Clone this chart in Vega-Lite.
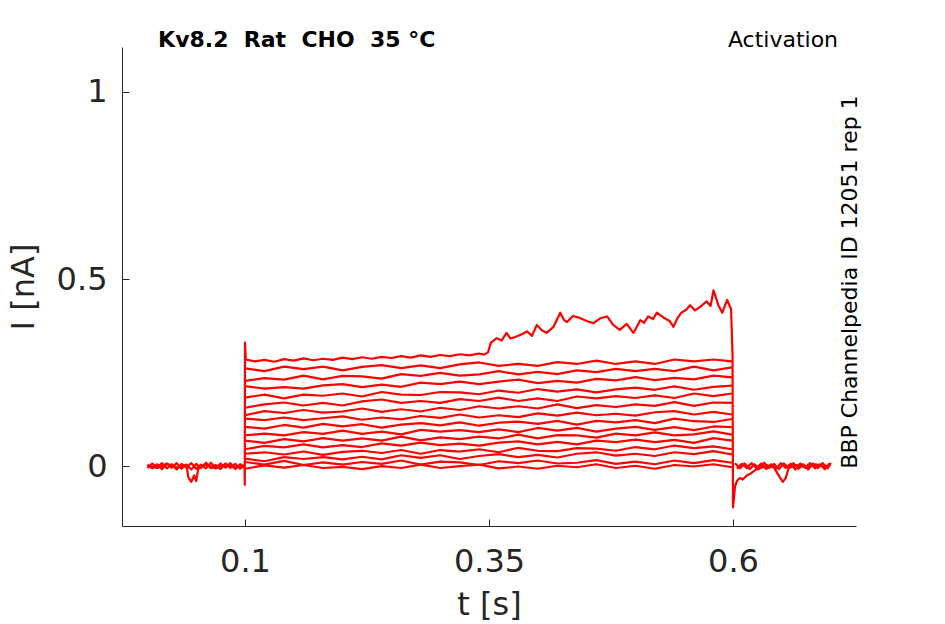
{
  "$schema": "https://vega.github.io/schema/vega-lite/v6.json",
  "description": "Kv8.2 activation current traces",
  "autosize": "none",
  "width": 734,
  "height": 479,
  "padding": {"left": 122, "top": 47, "right": 89, "bottom": 98},
  "background": "white",
  "config": {
    "view": {"stroke": null},
    "font": "DejaVu Sans",
    "axis": {
      "domainColor": "#262626",
      "tickColor": "#262626",
      "labelColor": "#262626",
      "titleColor": "#262626",
      "labelFont": "DejaVu Sans",
      "titleFont": "DejaVu Sans",
      "titleFontWeight": "normal",
      "grid": false,
      "domainWidth": 1,
      "tickWidth": 1
    }
  },
  "layer": [
    {
      "data": {
        "values": [
          {"k": "top", "t": 0.0, "i": 0.002},
          {"k": "top", "t": 0.01, "i": -0.005},
          {"k": "top", "t": 0.02, "i": 0.006},
          {"k": "top", "t": 0.03, "i": -0.004},
          {"k": "top", "t": 0.04, "i": 0.003},
          {"k": "top", "t": 0.042, "i": -0.03},
          {"k": "top", "t": 0.045, "i": -0.042},
          {"k": "top", "t": 0.048, "i": -0.025},
          {"k": "top", "t": 0.05, "i": -0.04},
          {"k": "top", "t": 0.052, "i": -0.008},
          {"k": "top", "t": 0.06, "i": 0.004},
          {"k": "top", "t": 0.07, "i": -0.006},
          {"k": "top", "t": 0.08, "i": 0.005},
          {"k": "top", "t": 0.09, "i": -0.004},
          {"k": "top", "t": 0.0995, "i": 0.002},
          {"k": "top", "t": 0.0998, "i": -0.05},
          {"k": "top", "t": 0.1, "i": 0.33},
          {"k": "top", "t": 0.1008, "i": 0.285},
          {"k": "top", "t": 0.11, "i": 0.28},
          {"k": "top", "t": 0.12, "i": 0.284},
          {"k": "top", "t": 0.13, "i": 0.279},
          {"k": "top", "t": 0.14, "i": 0.286},
          {"k": "top", "t": 0.15, "i": 0.282},
          {"k": "top", "t": 0.16, "i": 0.288},
          {"k": "top", "t": 0.17, "i": 0.283},
          {"k": "top", "t": 0.18, "i": 0.287},
          {"k": "top", "t": 0.19, "i": 0.284},
          {"k": "top", "t": 0.2, "i": 0.29},
          {"k": "top", "t": 0.21, "i": 0.286},
          {"k": "top", "t": 0.22, "i": 0.291},
          {"k": "top", "t": 0.23, "i": 0.287},
          {"k": "top", "t": 0.24, "i": 0.292},
          {"k": "top", "t": 0.25, "i": 0.289},
          {"k": "top", "t": 0.26, "i": 0.294},
          {"k": "top", "t": 0.27, "i": 0.29},
          {"k": "top", "t": 0.28, "i": 0.296},
          {"k": "top", "t": 0.29, "i": 0.292},
          {"k": "top", "t": 0.3, "i": 0.297},
          {"k": "top", "t": 0.31, "i": 0.294},
          {"k": "top", "t": 0.32, "i": 0.299},
          {"k": "top", "t": 0.33, "i": 0.296},
          {"k": "top", "t": 0.34, "i": 0.301},
          {"k": "top", "t": 0.345, "i": 0.298},
          {"k": "top", "t": 0.349, "i": 0.304},
          {"k": "top", "t": 0.352, "i": 0.33},
          {"k": "top", "t": 0.358, "i": 0.342},
          {"k": "top", "t": 0.363, "i": 0.336},
          {"k": "top", "t": 0.368, "i": 0.356},
          {"k": "top", "t": 0.372, "i": 0.341},
          {"k": "top", "t": 0.377, "i": 0.345},
          {"k": "top", "t": 0.383, "i": 0.352},
          {"k": "top", "t": 0.389, "i": 0.36},
          {"k": "top", "t": 0.394, "i": 0.348},
          {"k": "top", "t": 0.399, "i": 0.377},
          {"k": "top", "t": 0.404, "i": 0.363},
          {"k": "top", "t": 0.409, "i": 0.356},
          {"k": "top", "t": 0.416, "i": 0.372},
          {"k": "top", "t": 0.423, "i": 0.41},
          {"k": "top", "t": 0.427, "i": 0.39},
          {"k": "top", "t": 0.43, "i": 0.385},
          {"k": "top", "t": 0.436, "i": 0.401},
          {"k": "top", "t": 0.443, "i": 0.396},
          {"k": "top", "t": 0.45, "i": 0.388},
          {"k": "top", "t": 0.457, "i": 0.382},
          {"k": "top", "t": 0.464, "i": 0.395},
          {"k": "top", "t": 0.471, "i": 0.4},
          {"k": "top", "t": 0.477, "i": 0.378},
          {"k": "top", "t": 0.484, "i": 0.364},
          {"k": "top", "t": 0.491, "i": 0.38},
          {"k": "top", "t": 0.498, "i": 0.356},
          {"k": "top", "t": 0.505, "i": 0.39},
          {"k": "top", "t": 0.509, "i": 0.383},
          {"k": "top", "t": 0.513, "i": 0.4},
          {"k": "top", "t": 0.518, "i": 0.393},
          {"k": "top", "t": 0.522, "i": 0.41},
          {"k": "top", "t": 0.53, "i": 0.395},
          {"k": "top", "t": 0.535, "i": 0.388},
          {"k": "top", "t": 0.539, "i": 0.372},
          {"k": "top", "t": 0.543, "i": 0.395},
          {"k": "top", "t": 0.547, "i": 0.41},
          {"k": "top", "t": 0.552, "i": 0.418},
          {"k": "top", "t": 0.556, "i": 0.43},
          {"k": "top", "t": 0.561, "i": 0.416},
          {"k": "top", "t": 0.566, "i": 0.425},
          {"k": "top", "t": 0.573, "i": 0.44},
          {"k": "top", "t": 0.577, "i": 0.428},
          {"k": "top", "t": 0.58, "i": 0.47},
          {"k": "top", "t": 0.585, "i": 0.43},
          {"k": "top", "t": 0.589, "i": 0.41},
          {"k": "top", "t": 0.594, "i": 0.444},
          {"k": "top", "t": 0.598, "i": 0.42},
          {"k": "top", "t": 0.5995, "i": 0.3},
          {"k": "top", "t": 0.6, "i": -0.11},
          {"k": "top", "t": 0.6008, "i": -0.09},
          {"k": "top", "t": 0.602, "i": -0.055},
          {"k": "top", "t": 0.604, "i": -0.04},
          {"k": "top", "t": 0.607, "i": -0.032},
          {"k": "top", "t": 0.61, "i": -0.036},
          {"k": "top", "t": 0.614, "i": -0.025},
          {"k": "top", "t": 0.618, "i": -0.02},
          {"k": "top", "t": 0.622, "i": -0.012},
          {"k": "top", "t": 0.628, "i": -0.005},
          {"k": "top", "t": 0.635, "i": 0.002},
          {"k": "top", "t": 0.642, "i": -0.004},
          {"k": "top", "t": 0.648, "i": -0.03},
          {"k": "top", "t": 0.651, "i": -0.042},
          {"k": "top", "t": 0.654, "i": -0.032},
          {"k": "top", "t": 0.657, "i": -0.005},
          {"k": "top", "t": 0.665, "i": 0.003},
          {"k": "top", "t": 0.675, "i": -0.004},
          {"k": "top", "t": 0.685, "i": 0.005},
          {"k": "top", "t": 0.695, "i": -0.003},
          {"k": "top", "t": 0.7, "i": 0.004},

          {"k": "b1", "t": 0.0, "i": 0.003},
          {"k": "b1", "t": 0.005, "i": -0.006},
          {"k": "b1", "t": 0.01, "i": 0.005},
          {"k": "b1", "t": 0.015, "i": -0.008},
          {"k": "b1", "t": 0.02, "i": 0.007},
          {"k": "b1", "t": 0.025, "i": -0.004},
          {"k": "b1", "t": 0.03, "i": 0.008},
          {"k": "b1", "t": 0.035, "i": -0.007},
          {"k": "b1", "t": 0.04, "i": 0.004},
          {"k": "b1", "t": 0.045, "i": -0.009},
          {"k": "b1", "t": 0.05, "i": 0.006},
          {"k": "b1", "t": 0.055, "i": -0.005},
          {"k": "b1", "t": 0.06, "i": 0.009},
          {"k": "b1", "t": 0.065, "i": -0.006},
          {"k": "b1", "t": 0.07, "i": 0.003},
          {"k": "b1", "t": 0.075, "i": -0.008},
          {"k": "b1", "t": 0.08, "i": 0.007},
          {"k": "b1", "t": 0.085, "i": -0.005},
          {"k": "b1", "t": 0.09, "i": 0.006},
          {"k": "b1", "t": 0.095, "i": -0.007},
          {"k": "b1", "t": 0.0995, "i": 0.002},

          {"k": "b2", "t": 0.0, "i": -0.005},
          {"k": "b2", "t": 0.005, "i": 0.007},
          {"k": "b2", "t": 0.01, "i": -0.004},
          {"k": "b2", "t": 0.015, "i": 0.008},
          {"k": "b2", "t": 0.02, "i": -0.006},
          {"k": "b2", "t": 0.025, "i": 0.005},
          {"k": "b2", "t": 0.03, "i": -0.009},
          {"k": "b2", "t": 0.035, "i": 0.006},
          {"k": "b2", "t": 0.04, "i": -0.003},
          {"k": "b2", "t": 0.045, "i": 0.008},
          {"k": "b2", "t": 0.05, "i": -0.007},
          {"k": "b2", "t": 0.055, "i": 0.004},
          {"k": "b2", "t": 0.06, "i": -0.006},
          {"k": "b2", "t": 0.065, "i": 0.009},
          {"k": "b2", "t": 0.07, "i": -0.005},
          {"k": "b2", "t": 0.075, "i": 0.007},
          {"k": "b2", "t": 0.08, "i": -0.004},
          {"k": "b2", "t": 0.085, "i": 0.008},
          {"k": "b2", "t": 0.09, "i": -0.008},
          {"k": "b2", "t": 0.095, "i": 0.005},
          {"k": "b2", "t": 0.0995, "i": -0.003},

          {"k": "a1", "t": 0.602, "i": 0.008},
          {"k": "a1", "t": 0.607, "i": -0.006},
          {"k": "a1", "t": 0.612, "i": 0.007},
          {"k": "a1", "t": 0.617, "i": -0.008},
          {"k": "a1", "t": 0.622, "i": 0.005},
          {"k": "a1", "t": 0.627, "i": -0.007},
          {"k": "a1", "t": 0.632, "i": 0.009},
          {"k": "a1", "t": 0.637, "i": -0.005},
          {"k": "a1", "t": 0.642, "i": 0.006},
          {"k": "a1", "t": 0.647, "i": -0.008},
          {"k": "a1", "t": 0.652, "i": 0.007},
          {"k": "a1", "t": 0.657, "i": -0.004},
          {"k": "a1", "t": 0.662, "i": 0.008},
          {"k": "a1", "t": 0.667, "i": -0.007},
          {"k": "a1", "t": 0.672, "i": 0.005},
          {"k": "a1", "t": 0.677, "i": -0.009},
          {"k": "a1", "t": 0.682, "i": 0.007},
          {"k": "a1", "t": 0.687, "i": -0.005},
          {"k": "a1", "t": 0.692, "i": 0.008},
          {"k": "a1", "t": 0.697, "i": -0.006},
          {"k": "a1", "t": 0.7, "i": 0.009},

          {"k": "a2", "t": 0.604, "i": -0.007},
          {"k": "a2", "t": 0.609, "i": 0.006},
          {"k": "a2", "t": 0.614, "i": -0.005},
          {"k": "a2", "t": 0.619, "i": 0.008},
          {"k": "a2", "t": 0.624, "i": -0.006},
          {"k": "a2", "t": 0.629, "i": 0.007},
          {"k": "a2", "t": 0.634, "i": -0.008},
          {"k": "a2", "t": 0.639, "i": 0.005},
          {"k": "a2", "t": 0.644, "i": -0.007},
          {"k": "a2", "t": 0.649, "i": 0.008},
          {"k": "a2", "t": 0.654, "i": -0.005},
          {"k": "a2", "t": 0.659, "i": 0.006},
          {"k": "a2", "t": 0.664, "i": -0.009},
          {"k": "a2", "t": 0.669, "i": 0.007},
          {"k": "a2", "t": 0.674, "i": -0.004},
          {"k": "a2", "t": 0.679, "i": 0.008},
          {"k": "a2", "t": 0.684, "i": -0.006},
          {"k": "a2", "t": 0.689, "i": 0.005},
          {"k": "a2", "t": 0.694, "i": -0.008},
          {"k": "a2", "t": 0.699, "i": 0.007},

          {"k": "s1", "t": 0.1, "i": 0.261},
          {"k": "s1", "t": 0.12, "i": 0.254},
          {"k": "s1", "t": 0.14, "i": 0.266},
          {"k": "s1", "t": 0.16, "i": 0.259},
          {"k": "s1", "t": 0.18, "i": 0.266},
          {"k": "s1", "t": 0.2, "i": 0.256},
          {"k": "s1", "t": 0.22, "i": 0.265},
          {"k": "s1", "t": 0.24, "i": 0.27},
          {"k": "s1", "t": 0.26, "i": 0.262},
          {"k": "s1", "t": 0.28, "i": 0.269},
          {"k": "s1", "t": 0.3, "i": 0.262},
          {"k": "s1", "t": 0.32, "i": 0.272},
          {"k": "s1", "t": 0.34, "i": 0.277},
          {"k": "s1", "t": 0.36, "i": 0.268},
          {"k": "s1", "t": 0.38, "i": 0.273},
          {"k": "s1", "t": 0.4, "i": 0.268},
          {"k": "s1", "t": 0.42, "i": 0.278},
          {"k": "s1", "t": 0.44, "i": 0.273},
          {"k": "s1", "t": 0.46, "i": 0.282},
          {"k": "s1", "t": 0.48, "i": 0.273},
          {"k": "s1", "t": 0.5, "i": 0.28},
          {"k": "s1", "t": 0.52, "i": 0.273},
          {"k": "s1", "t": 0.54, "i": 0.285},
          {"k": "s1", "t": 0.56, "i": 0.28},
          {"k": "s1", "t": 0.58, "i": 0.285},
          {"k": "s1", "t": 0.599, "i": 0.28},

          {"k": "s2", "t": 0.1, "i": 0.228},
          {"k": "s2", "t": 0.12, "i": 0.235},
          {"k": "s2", "t": 0.14, "i": 0.231},
          {"k": "s2", "t": 0.16, "i": 0.242},
          {"k": "s2", "t": 0.18, "i": 0.232},
          {"k": "s2", "t": 0.2, "i": 0.241},
          {"k": "s2", "t": 0.22, "i": 0.24},
          {"k": "s2", "t": 0.24, "i": 0.234},
          {"k": "s2", "t": 0.26, "i": 0.246},
          {"k": "s2", "t": 0.28, "i": 0.241},
          {"k": "s2", "t": 0.3, "i": 0.249},
          {"k": "s2", "t": 0.32, "i": 0.242},
          {"k": "s2", "t": 0.34, "i": 0.245},
          {"k": "s2", "t": 0.36, "i": 0.254},
          {"k": "s2", "t": 0.38, "i": 0.245},
          {"k": "s2", "t": 0.4, "i": 0.252},
          {"k": "s2", "t": 0.42, "i": 0.246},
          {"k": "s2", "t": 0.44, "i": 0.256},
          {"k": "s2", "t": 0.46, "i": 0.251},
          {"k": "s2", "t": 0.48, "i": 0.26},
          {"k": "s2", "t": 0.5, "i": 0.254},
          {"k": "s2", "t": 0.52, "i": 0.26},
          {"k": "s2", "t": 0.54, "i": 0.254},
          {"k": "s2", "t": 0.56, "i": 0.266},
          {"k": "s2", "t": 0.58, "i": 0.256},
          {"k": "s2", "t": 0.599, "i": 0.264},

          {"k": "s3", "t": 0.1, "i": 0.214},
          {"k": "s3", "t": 0.12, "i": 0.207},
          {"k": "s3", "t": 0.14, "i": 0.211},
          {"k": "s3", "t": 0.16, "i": 0.207},
          {"k": "s3", "t": 0.18, "i": 0.216},
          {"k": "s3", "t": 0.2, "i": 0.219},
          {"k": "s3", "t": 0.22, "i": 0.211},
          {"k": "s3", "t": 0.24, "i": 0.218},
          {"k": "s3", "t": 0.26, "i": 0.212},
          {"k": "s3", "t": 0.28, "i": 0.223},
          {"k": "s3", "t": 0.3, "i": 0.219},
          {"k": "s3", "t": 0.32, "i": 0.226},
          {"k": "s3", "t": 0.34, "i": 0.219},
          {"k": "s3", "t": 0.36, "i": 0.226},
          {"k": "s3", "t": 0.38, "i": 0.231},
          {"k": "s3", "t": 0.4, "i": 0.222},
          {"k": "s3", "t": 0.42, "i": 0.228},
          {"k": "s3", "t": 0.44, "i": 0.223},
          {"k": "s3", "t": 0.46, "i": 0.233},
          {"k": "s3", "t": 0.48, "i": 0.229},
          {"k": "s3", "t": 0.5, "i": 0.238},
          {"k": "s3", "t": 0.52, "i": 0.23},
          {"k": "s3", "t": 0.54, "i": 0.236},
          {"k": "s3", "t": 0.56, "i": 0.232},
          {"k": "s3", "t": 0.58, "i": 0.242},
          {"k": "s3", "t": 0.599, "i": 0.237},

          {"k": "s4", "t": 0.1, "i": 0.183},
          {"k": "s4", "t": 0.12, "i": 0.191},
          {"k": "s4", "t": 0.14, "i": 0.181},
          {"k": "s4", "t": 0.16, "i": 0.191},
          {"k": "s4", "t": 0.18, "i": 0.188},
          {"k": "s4", "t": 0.2, "i": 0.194},
          {"k": "s4", "t": 0.22, "i": 0.186},
          {"k": "s4", "t": 0.24, "i": 0.198},
          {"k": "s4", "t": 0.26, "i": 0.191},
          {"k": "s4", "t": 0.28, "i": 0.19},
          {"k": "s4", "t": 0.3, "i": 0.198},
          {"k": "s4", "t": 0.32, "i": 0.197},
          {"k": "s4", "t": 0.34, "i": 0.192},
          {"k": "s4", "t": 0.36, "i": 0.202},
          {"k": "s4", "t": 0.38, "i": 0.196},
          {"k": "s4", "t": 0.4, "i": 0.206},
          {"k": "s4", "t": 0.42, "i": 0.199},
          {"k": "s4", "t": 0.44, "i": 0.205},
          {"k": "s4", "t": 0.46, "i": 0.197},
          {"k": "s4", "t": 0.48, "i": 0.205},
          {"k": "s4", "t": 0.5, "i": 0.21},
          {"k": "s4", "t": 0.52, "i": 0.204},
          {"k": "s4", "t": 0.54, "i": 0.213},
          {"k": "s4", "t": 0.56, "i": 0.204},
          {"k": "s4", "t": 0.58, "i": 0.212},
          {"k": "s4", "t": 0.599, "i": 0.215},

          {"k": "s5", "t": 0.1, "i": 0.156},
          {"k": "s5", "t": 0.12, "i": 0.165},
          {"k": "s5", "t": 0.14, "i": 0.17},
          {"k": "s5", "t": 0.16, "i": 0.162},
          {"k": "s5", "t": 0.18, "i": 0.169},
          {"k": "s5", "t": 0.2, "i": 0.162},
          {"k": "s5", "t": 0.22, "i": 0.173},
          {"k": "s5", "t": 0.24, "i": 0.178},
          {"k": "s5", "t": 0.26, "i": 0.169},
          {"k": "s5", "t": 0.28, "i": 0.174},
          {"k": "s5", "t": 0.3, "i": 0.169},
          {"k": "s5", "t": 0.32, "i": 0.179},
          {"k": "s5", "t": 0.34, "i": 0.174},
          {"k": "s5", "t": 0.36, "i": 0.183},
          {"k": "s5", "t": 0.38, "i": 0.174},
          {"k": "s5", "t": 0.4, "i": 0.181},
          {"k": "s5", "t": 0.42, "i": 0.174},
          {"k": "s5", "t": 0.44, "i": 0.186},
          {"k": "s5", "t": 0.46, "i": 0.181},
          {"k": "s5", "t": 0.48, "i": 0.187},
          {"k": "s5", "t": 0.5, "i": 0.182},
          {"k": "s5", "t": 0.52, "i": 0.189},
          {"k": "s5", "t": 0.54, "i": 0.182},
          {"k": "s5", "t": 0.56, "i": 0.194},
          {"k": "s5", "t": 0.58, "i": 0.187},
          {"k": "s5", "t": 0.599, "i": 0.194},

          {"k": "s6", "t": 0.1, "i": 0.136},
          {"k": "s6", "t": 0.12, "i": 0.147},
          {"k": "s6", "t": 0.14, "i": 0.142},
          {"k": "s6", "t": 0.16, "i": 0.15},
          {"k": "s6", "t": 0.18, "i": 0.143},
          {"k": "s6", "t": 0.2, "i": 0.146},
          {"k": "s6", "t": 0.22, "i": 0.154},
          {"k": "s6", "t": 0.24, "i": 0.145},
          {"k": "s6", "t": 0.26, "i": 0.152},
          {"k": "s6", "t": 0.28, "i": 0.146},
          {"k": "s6", "t": 0.3, "i": 0.156},
          {"k": "s6", "t": 0.32, "i": 0.15},
          {"k": "s6", "t": 0.34, "i": 0.16},
          {"k": "s6", "t": 0.36, "i": 0.154},
          {"k": "s6", "t": 0.38, "i": 0.16},
          {"k": "s6", "t": 0.4, "i": 0.154},
          {"k": "s6", "t": 0.42, "i": 0.165},
          {"k": "s6", "t": 0.44, "i": 0.155},
          {"k": "s6", "t": 0.46, "i": 0.163},
          {"k": "s6", "t": 0.48, "i": 0.158},
          {"k": "s6", "t": 0.5, "i": 0.165},
          {"k": "s6", "t": 0.52, "i": 0.161},
          {"k": "s6", "t": 0.54, "i": 0.171},
          {"k": "s6", "t": 0.56, "i": 0.161},
          {"k": "s6", "t": 0.58, "i": 0.17},
          {"k": "s6", "t": 0.599, "i": 0.169},

          {"k": "s7", "t": 0.1, "i": 0.127},
          {"k": "s7", "t": 0.12, "i": 0.123},
          {"k": "s7", "t": 0.14, "i": 0.13},
          {"k": "s7", "t": 0.16, "i": 0.123},
          {"k": "s7", "t": 0.18, "i": 0.128},
          {"k": "s7", "t": 0.2, "i": 0.133},
          {"k": "s7", "t": 0.22, "i": 0.124},
          {"k": "s7", "t": 0.24, "i": 0.13},
          {"k": "s7", "t": 0.26, "i": 0.125},
          {"k": "s7", "t": 0.28, "i": 0.134},
          {"k": "s7", "t": 0.3, "i": 0.129},
          {"k": "s7", "t": 0.32, "i": 0.138},
          {"k": "s7", "t": 0.34, "i": 0.13},
          {"k": "s7", "t": 0.36, "i": 0.136},
          {"k": "s7", "t": 0.38, "i": 0.131},
          {"k": "s7", "t": 0.4, "i": 0.141},
          {"k": "s7", "t": 0.42, "i": 0.135},
          {"k": "s7", "t": 0.44, "i": 0.143},
          {"k": "s7", "t": 0.46, "i": 0.136},
          {"k": "s7", "t": 0.48, "i": 0.14},
          {"k": "s7", "t": 0.5, "i": 0.135},
          {"k": "s7", "t": 0.52, "i": 0.144},
          {"k": "s7", "t": 0.54, "i": 0.147},
          {"k": "s7", "t": 0.56, "i": 0.138},
          {"k": "s7", "t": 0.58, "i": 0.145},
          {"k": "s7", "t": 0.599, "i": 0.138},

          {"k": "s8", "t": 0.1, "i": 0.105},
          {"k": "s8", "t": 0.12, "i": 0.1},
          {"k": "s8", "t": 0.14, "i": 0.11},
          {"k": "s8", "t": 0.16, "i": 0.103},
          {"k": "s8", "t": 0.18, "i": 0.113},
          {"k": "s8", "t": 0.2, "i": 0.106},
          {"k": "s8", "t": 0.22, "i": 0.112},
          {"k": "s8", "t": 0.24, "i": 0.103},
          {"k": "s8", "t": 0.26, "i": 0.111},
          {"k": "s8", "t": 0.28, "i": 0.115},
          {"k": "s8", "t": 0.3, "i": 0.109},
          {"k": "s8", "t": 0.32, "i": 0.117},
          {"k": "s8", "t": 0.34, "i": 0.108},
          {"k": "s8", "t": 0.36, "i": 0.116},
          {"k": "s8", "t": 0.38, "i": 0.119},
          {"k": "s8", "t": 0.4, "i": 0.113},
          {"k": "s8", "t": 0.42, "i": 0.121},
          {"k": "s8", "t": 0.44, "i": 0.111},
          {"k": "s8", "t": 0.46, "i": 0.121},
          {"k": "s8", "t": 0.48, "i": 0.117},
          {"k": "s8", "t": 0.5, "i": 0.123},
          {"k": "s8", "t": 0.52, "i": 0.115},
          {"k": "s8", "t": 0.54, "i": 0.127},
          {"k": "s8", "t": 0.56, "i": 0.12},
          {"k": "s8", "t": 0.58, "i": 0.118},
          {"k": "s8", "t": 0.599, "i": 0.126},

          {"k": "s9", "t": 0.1, "i": 0.082},
          {"k": "s9", "t": 0.12, "i": 0.087},
          {"k": "s9", "t": 0.14, "i": 0.082},
          {"k": "s9", "t": 0.16, "i": 0.091},
          {"k": "s9", "t": 0.18, "i": 0.086},
          {"k": "s9", "t": 0.2, "i": 0.095},
          {"k": "s9", "t": 0.22, "i": 0.086},
          {"k": "s9", "t": 0.24, "i": 0.092},
          {"k": "s9", "t": 0.26, "i": 0.085},
          {"k": "s9", "t": 0.28, "i": 0.097},
          {"k": "s9", "t": 0.3, "i": 0.092},
          {"k": "s9", "t": 0.32, "i": 0.096},
          {"k": "s9", "t": 0.34, "i": 0.091},
          {"k": "s9", "t": 0.36, "i": 0.098},
          {"k": "s9", "t": 0.38, "i": 0.091},
          {"k": "s9", "t": 0.4, "i": 0.102},
          {"k": "s9", "t": 0.42, "i": 0.095},
          {"k": "s9", "t": 0.44, "i": 0.102},
          {"k": "s9", "t": 0.46, "i": 0.092},
          {"k": "s9", "t": 0.48, "i": 0.1},
          {"k": "s9", "t": 0.5, "i": 0.105},
          {"k": "s9", "t": 0.52, "i": 0.097},
          {"k": "s9", "t": 0.54, "i": 0.104},
          {"k": "s9", "t": 0.56, "i": 0.096},
          {"k": "s9", "t": 0.58, "i": 0.106},
          {"k": "s9", "t": 0.599, "i": 0.104},

          {"k": "s10", "t": 0.1, "i": 0.068},
          {"k": "s10", "t": 0.12, "i": 0.062},
          {"k": "s10", "t": 0.14, "i": 0.072},
          {"k": "s10", "t": 0.16, "i": 0.066},
          {"k": "s10", "t": 0.18, "i": 0.075},
          {"k": "s10", "t": 0.2, "i": 0.068},
          {"k": "s10", "t": 0.22, "i": 0.074},
          {"k": "s10", "t": 0.24, "i": 0.068},
          {"k": "s10", "t": 0.26, "i": 0.079},
          {"k": "s10", "t": 0.28, "i": 0.069},
          {"k": "s10", "t": 0.3, "i": 0.077},
          {"k": "s10", "t": 0.32, "i": 0.072},
          {"k": "s10", "t": 0.34, "i": 0.079},
          {"k": "s10", "t": 0.36, "i": 0.074},
          {"k": "s10", "t": 0.38, "i": 0.084},
          {"k": "s10", "t": 0.4, "i": 0.074},
          {"k": "s10", "t": 0.42, "i": 0.083},
          {"k": "s10", "t": 0.44, "i": 0.082},
          {"k": "s10", "t": 0.46, "i": 0.076},
          {"k": "s10", "t": 0.48, "i": 0.087},
          {"k": "s10", "t": 0.5, "i": 0.082},
          {"k": "s10", "t": 0.52, "i": 0.09},
          {"k": "s10", "t": 0.54, "i": 0.082},
          {"k": "s10", "t": 0.56, "i": 0.085},
          {"k": "s10", "t": 0.58, "i": 0.093},
          {"k": "s10", "t": 0.599, "i": 0.084},

          {"k": "s11", "t": 0.1, "i": 0.045},
          {"k": "s11", "t": 0.12, "i": 0.054},
          {"k": "s11", "t": 0.14, "i": 0.05},
          {"k": "s11", "t": 0.16, "i": 0.058},
          {"k": "s11", "t": 0.18, "i": 0.05},
          {"k": "s11", "t": 0.2, "i": 0.056},
          {"k": "s11", "t": 0.22, "i": 0.051},
          {"k": "s11", "t": 0.24, "i": 0.061},
          {"k": "s11", "t": 0.26, "i": 0.055},
          {"k": "s11", "t": 0.28, "i": 0.063},
          {"k": "s11", "t": 0.3, "i": 0.056},
          {"k": "s11", "t": 0.32, "i": 0.06},
          {"k": "s11", "t": 0.34, "i": 0.055},
          {"k": "s11", "t": 0.36, "i": 0.063},
          {"k": "s11", "t": 0.38, "i": 0.066},
          {"k": "s11", "t": 0.4, "i": 0.058},
          {"k": "s11", "t": 0.42, "i": 0.065},
          {"k": "s11", "t": 0.44, "i": 0.058},
          {"k": "s11", "t": 0.46, "i": 0.068},
          {"k": "s11", "t": 0.48, "i": 0.064},
          {"k": "s11", "t": 0.5, "i": 0.071},
          {"k": "s11", "t": 0.52, "i": 0.064},
          {"k": "s11", "t": 0.54, "i": 0.07},
          {"k": "s11", "t": 0.56, "i": 0.062},
          {"k": "s11", "t": 0.58, "i": 0.075},
          {"k": "s11", "t": 0.599, "i": 0.068},

          {"k": "s12", "t": 0.1, "i": 0.033},
          {"k": "s12", "t": 0.12, "i": 0.037},
          {"k": "s12", "t": 0.14, "i": 0.031},
          {"k": "s12", "t": 0.16, "i": 0.039},
          {"k": "s12", "t": 0.18, "i": 0.03},
          {"k": "s12", "t": 0.2, "i": 0.038},
          {"k": "s12", "t": 0.22, "i": 0.041},
          {"k": "s12", "t": 0.24, "i": 0.035},
          {"k": "s12", "t": 0.26, "i": 0.043},
          {"k": "s12", "t": 0.28, "i": 0.033},
          {"k": "s12", "t": 0.3, "i": 0.043},
          {"k": "s12", "t": 0.32, "i": 0.039},
          {"k": "s12", "t": 0.34, "i": 0.045},
          {"k": "s12", "t": 0.36, "i": 0.037},
          {"k": "s12", "t": 0.38, "i": 0.049},
          {"k": "s12", "t": 0.4, "i": 0.041},
          {"k": "s12", "t": 0.42, "i": 0.04},
          {"k": "s12", "t": 0.44, "i": 0.048},
          {"k": "s12", "t": 0.46, "i": 0.047},
          {"k": "s12", "t": 0.48, "i": 0.041},
          {"k": "s12", "t": 0.5, "i": 0.051},
          {"k": "s12", "t": 0.52, "i": 0.045},
          {"k": "s12", "t": 0.54, "i": 0.055},
          {"k": "s12", "t": 0.56, "i": 0.048},
          {"k": "s12", "t": 0.58, "i": 0.053},
          {"k": "s12", "t": 0.599, "i": 0.045},

          {"k": "s13", "t": 0.1, "i": 0.02},
          {"k": "s13", "t": 0.12, "i": 0.013},
          {"k": "s13", "t": 0.14, "i": 0.024},
          {"k": "s13", "t": 0.16, "i": 0.019},
          {"k": "s13", "t": 0.18, "i": 0.024},
          {"k": "s13", "t": 0.2, "i": 0.018},
          {"k": "s13", "t": 0.22, "i": 0.025},
          {"k": "s13", "t": 0.24, "i": 0.018},
          {"k": "s13", "t": 0.26, "i": 0.029},
          {"k": "s13", "t": 0.28, "i": 0.022},
          {"k": "s13", "t": 0.3, "i": 0.029},
          {"k": "s13", "t": 0.32, "i": 0.019},
          {"k": "s13", "t": 0.34, "i": 0.027},
          {"k": "s13", "t": 0.36, "i": 0.032},
          {"k": "s13", "t": 0.38, "i": 0.024},
          {"k": "s13", "t": 0.4, "i": 0.03},
          {"k": "s13", "t": 0.42, "i": 0.023},
          {"k": "s13", "t": 0.44, "i": 0.033},
          {"k": "s13", "t": 0.46, "i": 0.037},
          {"k": "s13", "t": 0.48, "i": 0.028},
          {"k": "s13", "t": 0.5, "i": 0.033},
          {"k": "s13", "t": 0.52, "i": 0.027},
          {"k": "s13", "t": 0.54, "i": 0.037},
          {"k": "s13", "t": 0.56, "i": 0.032},
          {"k": "s13", "t": 0.58, "i": 0.04},
          {"k": "s13", "t": 0.599, "i": 0.031},

          {"k": "s14", "t": 0.1, "i": 0.011},
          {"k": "s14", "t": 0.12, "i": 0.004},
          {"k": "s14", "t": 0.14, "i": 0.014},
          {"k": "s14", "t": 0.16, "i": 0.003},
          {"k": "s14", "t": 0.18, "i": 0.01},
          {"k": "s14", "t": 0.2, "i": 0.004},
          {"k": "s14", "t": 0.22, "i": 0.011},
          {"k": "s14", "t": 0.24, "i": 0.006},
          {"k": "s14", "t": 0.26, "i": 0.015},
          {"k": "s14", "t": 0.28, "i": 0.004},
          {"k": "s14", "t": 0.3, "i": 0.012},
          {"k": "s14", "t": 0.32, "i": 0.01},
          {"k": "s14", "t": 0.34, "i": 0.003},
          {"k": "s14", "t": 0.36, "i": 0.013},
          {"k": "s14", "t": 0.38, "i": 0.008},
          {"k": "s14", "t": 0.4, "i": 0.015},
          {"k": "s14", "t": 0.42, "i": 0.007},
          {"k": "s14", "t": 0.44, "i": 0.009},
          {"k": "s14", "t": 0.46, "i": 0.016},
          {"k": "s14", "t": 0.48, "i": 0.006},
          {"k": "s14", "t": 0.5, "i": 0.012},
          {"k": "s14", "t": 0.52, "i": 0.005},
          {"k": "s14", "t": 0.54, "i": 0.015},
          {"k": "s14", "t": 0.56, "i": 0.008},
          {"k": "s14", "t": 0.58, "i": 0.016},
          {"k": "s14", "t": 0.599, "i": 0.009},

          {"k": "s15", "t": 0.1, "i": -0.007},
          {"k": "s15", "t": 0.12, "i": 0.002},
          {"k": "s15", "t": 0.14, "i": -0.004},
          {"k": "s15", "t": 0.16, "i": 0.003},
          {"k": "s15", "t": 0.18, "i": -0.005},
          {"k": "s15", "t": 0.2, "i": -0.002},
          {"k": "s15", "t": 0.22, "i": -0.008},
          {"k": "s15", "t": 0.24, "i": 0.0},
          {"k": "s15", "t": 0.26, "i": -0.005},
          {"k": "s15", "t": 0.28, "i": 0.004},
          {"k": "s15", "t": 0.3, "i": -0.005},
          {"k": "s15", "t": 0.32, "i": 0.0},
          {"k": "s15", "t": 0.34, "i": 0.004},
          {"k": "s15", "t": 0.36, "i": -0.006},
          {"k": "s15", "t": 0.38, "i": -0.001},
          {"k": "s15", "t": 0.4, "i": -0.007},
          {"k": "s15", "t": 0.42, "i": 0.001},
          {"k": "s15", "t": 0.44, "i": -0.003},
          {"k": "s15", "t": 0.46, "i": 0.005},
          {"k": "s15", "t": 0.48, "i": -0.005},
          {"k": "s15", "t": 0.5, "i": 0.001},
          {"k": "s15", "t": 0.52, "i": -0.007},
          {"k": "s15", "t": 0.54, "i": 0.003},
          {"k": "s15", "t": 0.56, "i": -0.001},
          {"k": "s15", "t": 0.58, "i": 0.005},
          {"k": "s15", "t": 0.599, "i": -0.003}
        ]
      },
      "mark": {"type": "line", "color": "#ff0000", "strokeWidth": 2.2, "strokeJoin": "round"},
      "encoding": {
        "x": {
          "field": "t",
          "type": "quantitative",
          "title": "t [s]",
          "scale": {"domain": [-0.026, 0.726], "nice": false, "zero": false},
          "axis": {
            "values": [0.1, 0.35, 0.6],
            "format": "~g",
            "tickSize": -7,
            "labelFontSize": 32,
            "labelPadding": 27,
            "titleFontSize": 32,
            "titlePadding": 12
          }
        },
        "y": {
          "field": "i",
          "type": "quantitative",
          "title": "I [nA]",
          "scale": {"domain": [-0.16, 1.12], "nice": false, "zero": false},
          "axis": {
            "values": [0, 0.5, 1],
            "format": "~g",
            "tickSize": -7,
            "labelFontSize": 32,
            "labelPadding": 22,
            "titleFontSize": 32,
            "titlePadding": 16
          }
        },
        "detail": {"field": "k", "type": "nominal"}
      }
    },
    {
      "data": {"values": [{}]},
      "mark": {"type": "text", "align": "left", "baseline": "alphabetic", "fontSize": 22, "fontWeight": "bold", "color": "black", "font": "DejaVu Sans"},
      "encoding": {
        "x": {"datum": 0.011, "type": "quantitative"},
        "y": {"datum": 1.12, "type": "quantitative"},
        "text": {"value": "Kv8.2\u00a0\u00a0Rat\u00a0\u00a0CHO\u00a0\u00a035 °C"}
      }
    },
    {
      "data": {"values": [{}]},
      "mark": {"type": "text", "align": "right", "baseline": "alphabetic", "fontSize": 22, "color": "black", "font": "DejaVu Sans"},
      "encoding": {
        "x": {"datum": 0.7076, "type": "quantitative"},
        "y": {"datum": 1.12, "type": "quantitative"},
        "text": {"value": "Activation"}
      }
    },
    {
      "data": {"values": [{}]},
      "mark": {"type": "text", "align": "center", "baseline": "alphabetic", "angle": 270, "fontSize": 22, "color": "black", "font": "DejaVu Sans"},
      "encoding": {
        "x": {"datum": 0.727, "type": "quantitative"},
        "y": {"datum": 0.492, "type": "quantitative"},
        "text": {"value": "BBP Channelpedia ID 12051 rep 1"}
      }
    }
  ]
}
